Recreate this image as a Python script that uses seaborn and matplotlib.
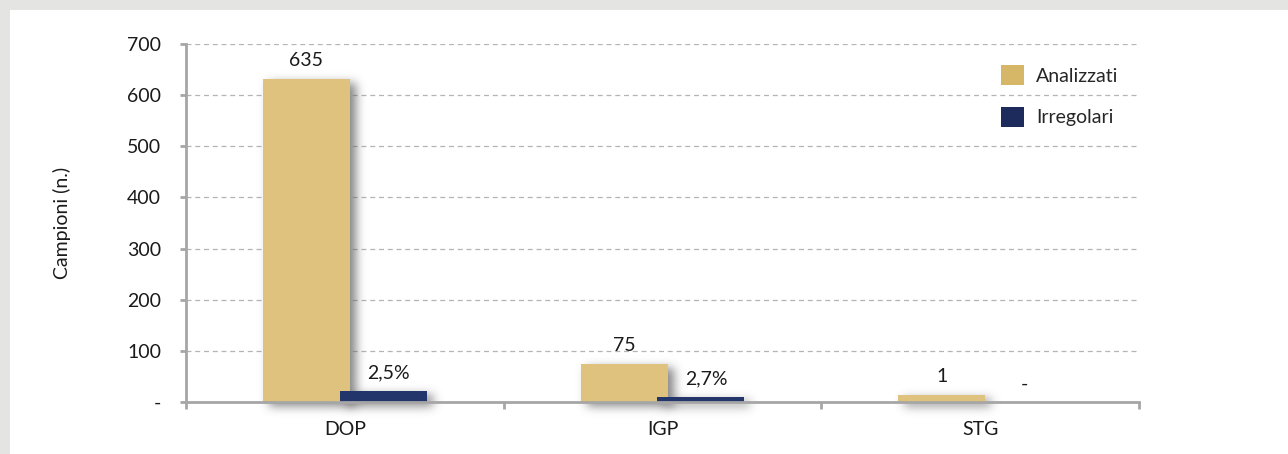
import numpy as np
import pandas as pd
import matplotlib
matplotlib.use("Agg")
import matplotlib.pyplot as plt
from matplotlib.patches import Rectangle, Patch
import seaborn as sns

# ---- data ----
categories = ["DOP", "IGP", "STG"]
series = ["Analizzati", "Irregolari"]
analizzati = [632, 75, 14]          # visible bar heights
irregolari = [21, 10, 0]            # visible bar heights
labels_analizzati = ["635", "75", "1"]
labels_irregolari = ["2,5%", "2,7%", "-"]
ytick_values = [0, 100, 200, 300, 400, 500, 600, 700]
ytick_labels = ["-", "100", "200", "300", "400", "500", "600", "700"]

gold = "#dec27e"
navy = "#22366b"
legend_gold = "#d6b767"
legend_navy = "#1c2b5c"
FS = 14

df = pd.DataFrame({
    "Categoria": categories * 2,
    "Campioni": analizzati + irregolari,
    "Serie": [series[0]] * 3 + [series[1]] * 3,
})

sns.set_style("white")
plt.rcParams["font.family"] = ["Lato", "DejaVu Sans"]


class BlurShadow:
    """agg filter: gaussian-blurred, offset grey copy of the artist."""

    def __init__(self, sigma_px=5.0, ox=6, oy=4, alpha=0.8):
        self.sigma = sigma_px
        self.ox, self.oy = ox, oy
        self.alpha = alpha

    def __call__(self, im, dpi):
        pad = int(self.sigma * 3) + max(abs(self.ox), abs(self.oy)) + 1
        a = np.pad(im, [(pad, pad), (pad, pad), (0, 0)], "constant")
        r = int(self.sigma * 3)
        x = np.arange(-r, r + 1)
        k = np.exp(-0.5 * (x / self.sigma) ** 2)
        k /= k.sum()
        al = a[:, :, 3]
        al = np.apply_along_axis(lambda v: np.convolve(v, k, mode="same"), 0, al)
        al = np.apply_along_axis(lambda v: np.convolve(v, k, mode="same"), 1, al)
        out = np.zeros_like(a)
        out[:, :, 0:3] = 0.4
        out[:, :, 3] = al * self.alpha
        out = np.roll(out, self.ox, axis=1)
        out = np.roll(out, self.oy, axis=0)
        return out, -pad, -pad


W, H = 1288, 454
fig = plt.figure(figsize=(W / 100, H / 100), dpi=100)
fig.patch.set_facecolor("#e4e4e2")
fig.add_artist(Rectangle((10 / W, 0), 1, 1 - 10 / H, transform=fig.transFigure,
                         facecolor="white", edgecolor="none", zorder=0))

ax = fig.add_axes([186 / W, 1 - 402 / H, (1139 - 186) / W, (402 - 44) / H])
ax.set_facecolor("white")

sns.barplot(data=df, x="Categoria", y="Campioni", hue="Serie", order=categories,
            hue_order=series, palette=[gold, navy], saturation=1, width=0.484,
            errorbar=None, ax=ax, legend=False)

# widen bars so the two series overlap slightly, add soft shadow behind them
bar_w = 0.274
bars = [p for p in ax.patches if isinstance(p, Rectangle)]
for p in bars:
    c = p.get_x() + p.get_width() / 2
    p.set_x(c - bar_w / 2)
    p.set_width(bar_w)
    p.set_edgecolor("none")
    p.set_zorder(2)
    if p.get_height() > 0:
        sh = Rectangle((p.get_x(), p.get_y()), p.get_width(), p.get_height(),
                       facecolor="black", edgecolor="none", zorder=1.5,
                       clip_on=False)
        sh.set_agg_filter(BlurShadow())
        ax.add_patch(sh)

# data labels
n = len(categories)
gold_bars = bars[:n]
navy_bars = bars[n:2 * n]
for p, lab in zip(gold_bars, labels_analizzati):
    ax.annotate(lab, (p.get_x() + p.get_width() / 2, p.get_height()),
                xytext=(0, 13), textcoords="offset points", ha="center", va="center",
                fontsize=FS, color="#1a1a1a")
for p, lab in zip(navy_bars, labels_irregolari):
    ax.annotate(lab, (p.get_x() + p.get_width() / 2, p.get_height()),
                xytext=(4, 13), textcoords="offset points", ha="center", va="center",
                fontsize=FS, color="#1a1a1a")

ax.set_xlim(-0.5, 2.5)
ax.set_ylim(0, 700)
ax.set_yticks(ytick_values)
ax.set_yticklabels(ytick_labels)
ax.yaxis.grid(True, linestyle=(0, (4, 3)), color="#b4b4b4", linewidth=0.9)
ax.xaxis.grid(False)
ax.set_axisbelow(True)

for s in ["top", "right"]:
    ax.spines[s].set_visible(False)
for s in ["left", "bottom"]:
    ax.spines[s].set_color("#a6a6a6")
    ax.spines[s].set_linewidth(2)
    ax.spines[s].set_zorder(3)

ax.tick_params(axis="y", which="major", length=4, width=2, color="#a6a6a6",
               labelsize=FS, labelcolor="#1a1a1a", pad=14, left=True)
ax.set_xticks(range(n))
ax.set_xticklabels(categories)
ax.set_xticks([-0.5, 0.5, 1.5, 2.5], minor=True)
ax.tick_params(axis="x", which="major", length=0, labelsize=FS, labelcolor="#1a1a1a", pad=14)
ax.tick_params(axis="x", which="minor", length=5, width=2, color="#a6a6a6", bottom=True)

ax.set_xlabel("")
ax.set_ylabel("Campioni (n.)", fontsize=FS, color="#1a1a1a")
ax.yaxis.set_label_coords(-0.121, 0.5)

handles = [Patch(facecolor=legend_gold, edgecolor="none"),
           Patch(facecolor=legend_navy, edgecolor="none")]
ax.legend(handles, series, loc="upper left", bbox_to_anchor=(0.855, 0.94),
          frameon=False, fontsize=FS, handlelength=1.2, handleheight=1.2,
          handletextpad=0.6, labelspacing=1.1, borderpad=0, borderaxespad=0)

fig.savefig("out.png", dpi=100, facecolor=fig.get_facecolor())
